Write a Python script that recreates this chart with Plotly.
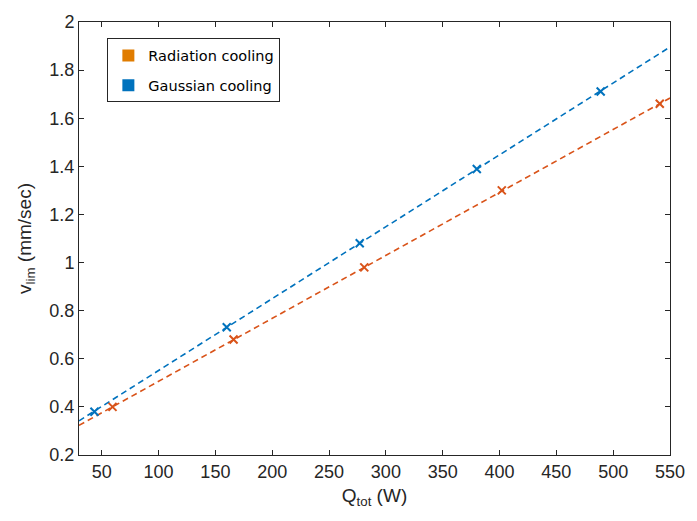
import plotly.graph_objects as go

# Data
gauss_q = [43.6, 160, 277, 380, 489]
gauss_v = [0.38, 0.731, 1.08, 1.389, 1.711]
rad_q = [59.5, 166, 281, 402, 541]
rad_v = [0.40, 0.68, 0.98, 1.30, 1.66]

# dashed fit lines (end points)
gauss_fit_q = [30, 550]
gauss_fit_v = [0.342, 1.896]
rad_fit_q = [30, 550]
rad_fit_v = [0.323, 1.684]

x_ticks = [50, 100, 150, 200, 250, 300, 350, 400, 450, 500, 550]
y_ticks = [0.2, 0.4, 0.6, 0.8, 1.0, 1.2, 1.4, 1.6, 1.8, 2.0]
y_ticktext = ["0.2", "0.4", "0.6", "0.8", "1", "1.2", "1.4", "1.6", "1.8", "2"]

BLUE = "#0072BD"
RED = "#D95319"
ORANGE = "#E07C00"

fig = go.Figure()

fig.add_trace(go.Scatter(x=gauss_fit_q, y=gauss_fit_v, mode="lines",
                         line=dict(color=BLUE, width=1.6, dash="6px,4px"),
                         showlegend=False, hoverinfo="skip"))
fig.add_trace(go.Scatter(x=rad_fit_q, y=rad_fit_v, mode="lines",
                         line=dict(color=RED, width=1.6, dash="6px,4px"),
                         showlegend=False, hoverinfo="skip"))
fig.add_trace(go.Scatter(x=gauss_q, y=gauss_v, mode="markers",
                         marker=dict(symbol="x-thin", size=8, line=dict(color=BLUE, width=2)),
                         showlegend=False))
fig.add_trace(go.Scatter(x=rad_q, y=rad_v, mode="markers",
                         marker=dict(symbol="x-thin", size=8, line=dict(color=RED, width=2)),
                         showlegend=False))

# legend entries
fig.add_trace(go.Scatter(x=[None], y=[None], mode="markers", name="Radiation cooling",
                         legendgroup="a",
                         marker=dict(symbol="square", size=12, color=ORANGE)))
fig.add_trace(go.Scatter(x=[None], y=[None], mode="markers", name="Gaussian cooling",
                         legendgroup="b",
                         marker=dict(symbol="square", size=12, color=BLUE)))

axis_common = dict(
    showgrid=False, zeroline=False, showline=True, linecolor="#262626", linewidth=1,
    mirror="allticks", ticks="inside", ticklen=5, tickcolor="#262626",
    tickfont=dict(family="Liberation Sans, Arial", size=18, color="#262626"),
)

fig.update_layout(
    width=697, height=521,
    margin=dict(l=79, r=18, t=12, b=66),
    plot_bgcolor="white", paper_bgcolor="white",
    xaxis=dict(range=[30, 550], tickvals=x_ticks,
               title=dict(text="Q<sub>tot</sub> (W)", standoff=8,
                          font=dict(family="Liberation Sans, Arial", size=19, color="#262626")),
               **axis_common),
    yaxis=dict(range=[0.2, 2.0], tickvals=y_ticks, ticktext=y_ticktext,
               title=dict(text="v<sub>lim</sub> (mm/sec)", standoff=12,
                          font=dict(family="Liberation Sans, Arial", size=19, color="#262626")),
               **axis_common),
    legend=dict(x=0.048, y=0.962, xanchor="left", yanchor="top",
                bordercolor="#262626", borderwidth=1, bgcolor="white",
                traceorder="grouped", tracegroupgap=8,
                font=dict(family="DejaVu Sans", size=14.5, color="#000000")),
)

fig.write_html("out.html")
